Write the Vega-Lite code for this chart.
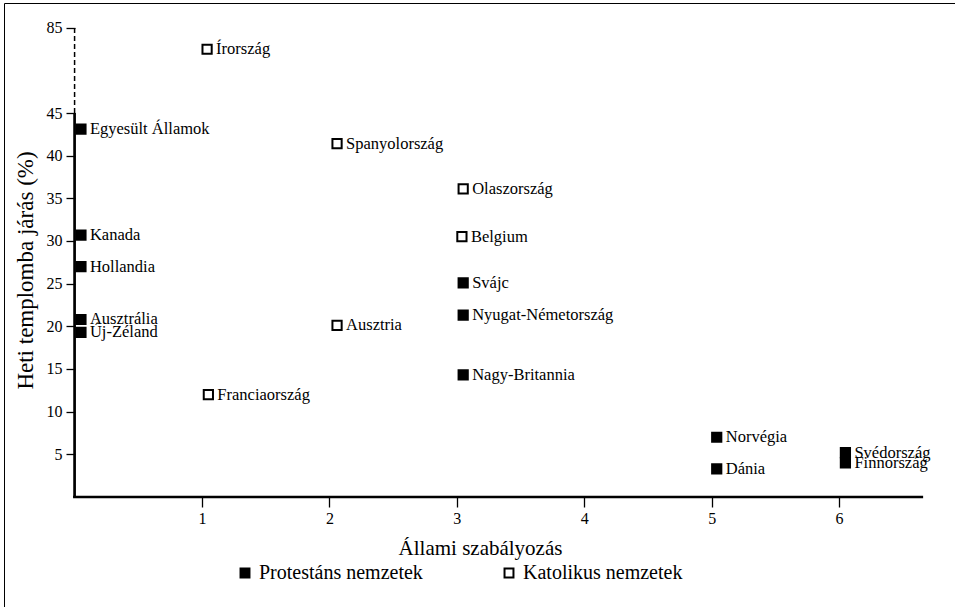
{
  "$schema": "https://vega.github.io/schema/vega-lite/v6.json",
  "width": 952,
  "height": 605,
  "autosize": {"type": "none"},
  "padding": {"left": 4, "top": 3, "right": 0, "bottom": 0},
  "config": {
    "font": "Liberation Serif",
    "view": {"stroke": "black", "strokeWidth": 1},
    "axis": {
      "domain": false,
      "grid": false,
      "tickColor": "black",
      "tickWidth": 1.3,
      "tickSize": 9,
      "labelColor": "black",
      "labelFont": "Liberation Serif",
      "labelFontSize": 16,
      "titleFont": "Liberation Serif",
      "titleFontWeight": "normal",
      "titleColor": "black",
      "titleFontSize": 21
    }
  },
  "datasets": {
    "orszagok": [
      {"orszag": "Írország", "szab": 1.04, "jaras": 75, "csoport": "Katolikus nemzetek"},
      {"orszag": "Egyesült Államok", "szab": 0.05, "jaras": 43.1, "csoport": "Protestáns nemzetek"},
      {"orszag": "Kanada", "szab": 0.05, "jaras": 30.7, "csoport": "Protestáns nemzetek"},
      {"orszag": "Hollandia", "szab": 0.05, "jaras": 27.0, "csoport": "Protestáns nemzetek"},
      {"orszag": "Ausztrália", "szab": 0.05, "jaras": 20.8, "csoport": "Protestáns nemzetek"},
      {"orszag": "Új-Zéland", "szab": 0.05, "jaras": 19.3, "csoport": "Protestáns nemzetek"},
      {"orszag": "Franciaország", "szab": 1.05, "jaras": 12.0, "csoport": "Katolikus nemzetek"},
      {"orszag": "Spanyolország", "szab": 2.06, "jaras": 41.4, "csoport": "Katolikus nemzetek"},
      {"orszag": "Olaszország", "szab": 3.05, "jaras": 36.1, "csoport": "Katolikus nemzetek"},
      {"orszag": "Belgium", "szab": 3.04, "jaras": 30.5, "csoport": "Katolikus nemzetek"},
      {"orszag": "Svájc", "szab": 3.05, "jaras": 25.1, "csoport": "Protestáns nemzetek"},
      {"orszag": "Nyugat-Németország", "szab": 3.05, "jaras": 21.3, "csoport": "Protestáns nemzetek"},
      {"orszag": "Ausztria", "szab": 2.06, "jaras": 20.1, "csoport": "Katolikus nemzetek"},
      {"orszag": "Nagy-Britannia", "szab": 3.05, "jaras": 14.3, "csoport": "Protestáns nemzetek"},
      {"orszag": "Norvégia", "szab": 5.04, "jaras": 7.0, "csoport": "Protestáns nemzetek"},
      {"orszag": "Dánia", "szab": 5.04, "jaras": 3.3, "csoport": "Protestáns nemzetek"},
      {"orszag": "Svédország", "szab": 6.05, "jaras": 5.2, "csoport": "Protestáns nemzetek"},
      {"orszag": "Finnország", "szab": 6.05, "jaras": 4.0, "csoport": "Protestáns nemzetek"}
    ]
  },
  "encoding": {
    "x": {
      "field": "szab",
      "type": "quantitative",
      "scale": {"domain": [-0.554, 6.918], "nice": false, "zero": false},
      "axis": {
        "orient": "bottom",
        "offset": -111,
        "values": [1, 2, 3, 4, 5, 6],
        "tickSize": 10,
        "labelPadding": 3,
        "title": "Állami szabályozás",
        "titlePadding": 11
      }
    },
    "y": {
      "field": "jaras",
      "type": "quantitative",
      "scale": {"domain": [-13.01, 45, 96.76], "range": [605, 110, 0], "nice": false, "zero": false},
      "axis": {
        "orient": "left",
        "offset": -71,
        "values": [5, 10, 15, 20, 25, 30, 35, 40, 45, 85],
        "labelPadding": 4,
        "title": "Heti templomba járás (%)",
        "titleFontSize": 23,
        "titleX": -50,
        "titleY": 267,
        "titleAlign": "center",
        "titleBaseline": "middle",
        "titleAngle": -90
      }
    }
  },
  "layer": [
    {
      "data": {"values": [{"szab": 0, "jaras": 0, "jaras2": 45}]},
      "mark": {"type": "rule", "color": "black", "strokeWidth": 2.7},
      "encoding": {"y2": {"field": "jaras2"}}
    },
    {
      "data": {"values": [{"szab": 0, "jaras": 45, "jaras2": 85}]},
      "mark": {"type": "rule", "color": "black", "strokeWidth": 1.5, "strokeDash": [5, 3]},
      "encoding": {"y2": {"field": "jaras2"}}
    },
    {
      "data": {"values": [{"szab": -0.012, "szab2": 6.66, "jaras": 0}]},
      "mark": {"type": "rule", "color": "black", "strokeWidth": 2.7},
      "encoding": {"x2": {"field": "szab2"}}
    },
    {
      "data": {"name": "orszagok"},
      "mark": {"type": "point", "shape": "square", "filled": true, "size": 85, "stroke": "black", "strokeWidth": 2, "opacity": 1},
      "encoding": {
        "fill": {
          "field": "csoport",
          "type": "nominal",
          "scale": {"domain": ["Protestáns nemzetek", "Katolikus nemzetek"], "range": ["black", "white"]},
          "legend": {
            "orient": "none",
            "legendX": 231,
            "legendY": 560,
            "direction": "horizontal",
            "title": null,
            "columnPadding": 76,
            "labelFontSize": 20,
            "labelLimit": 400,
            "labelFont": "Liberation Serif",
            "labelColor": "black",
            "labelOffset": 4,
            "symbolType": "square",
            "symbolSize": 80,
            "symbolStrokeColor": "black",
            "symbolStrokeWidth": 2,
            "padding": 0
          }
        }
      }
    },
    {
      "data": {"name": "orszagok"},
      "mark": {"type": "text", "align": "left", "baseline": "middle", "dx": 9, "fontSize": 16.5, "color": "black"},
      "encoding": {"text": {"field": "orszag"}}
    }
  ]
}
